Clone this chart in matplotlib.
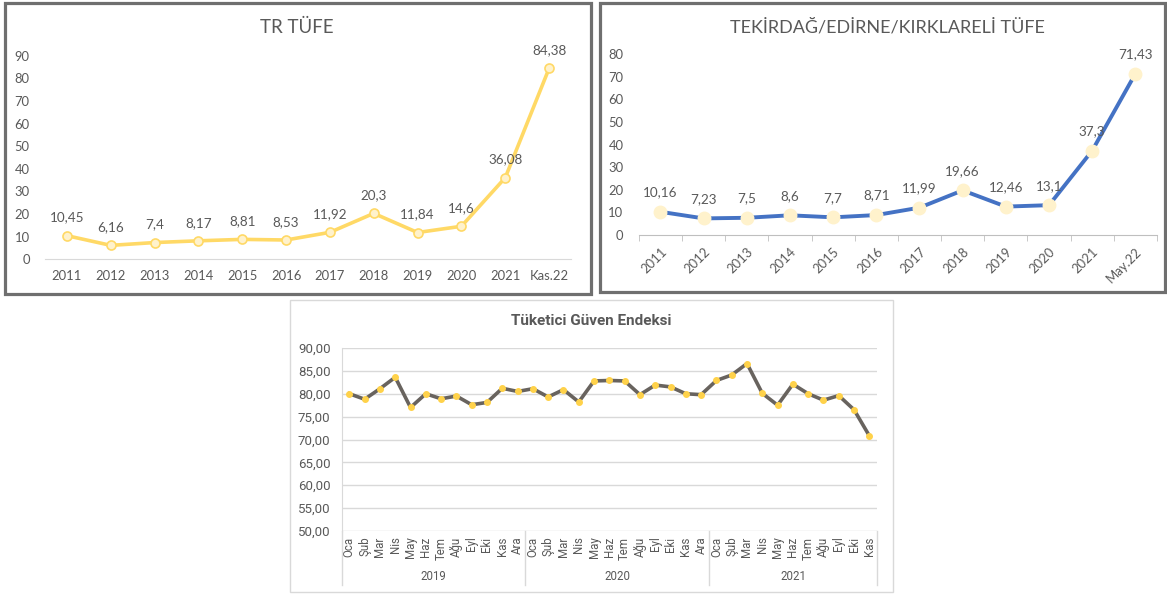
import matplotlib
matplotlib.use("Agg")
import matplotlib.pyplot as plt
from matplotlib.patches import Rectangle
import matplotlib.transforms as mtrans

W, H = 1167, 594

# ---------------- data ----------------
years = ["2011", "2012", "2013", "2014", "2015", "2016", "2017", "2018", "2019", "2020", "2021"]
tr_labels = years + ["Kas.22"]
tr_values = [10.45, 6.16, 7.4, 8.17, 8.81, 8.53, 11.92, 20.3, 11.84, 14.6, 36.08, 84.38]

tek_labels = years + ["May.22"]
tek_values = [10.16, 7.23, 7.5, 8.6, 7.7, 8.71, 11.99, 19.66, 12.46, 13.1, 37.3, 71.43]

months = ["Oca", "Şub", "Mar", "Nis", "May", "Haz", "Tem", "Ağu", "Eyl", "Eki", "Kas", "Ara"]
conf_years = ["2019", "2020", "2021"]
conf_months = months + months + months[:11]
conf_values = [80.0, 78.8, 81.1, 83.6, 77.0, 80.0, 78.9, 79.5, 77.6, 78.1, 81.2, 80.5,
               81.1, 79.3, 80.9, 78.2, 82.8, 82.9, 82.8, 79.8, 81.9, 81.5, 80.0, 79.8,
               82.9, 84.1, 86.6, 80.1, 77.5, 82.1, 80.0, 78.6, 79.6, 76.5, 70.8]

FONT = ["Lato", "DejaVu Sans"]
FONT2 = ["Roboto", "DejaVu Sans"]
GRAY = "#595959"


def box(x0, y0, x1, y1):
    return [x0 / W, 1 - y1 / H, (x1 - x0) / W, (y1 - y0) / H]


def fmt(v):
    return str(v).replace(".", ",")


fig = plt.figure(figsize=(W / 100, H / 100), dpi=100)
fig.patch.set_facecolor("white")

# panel frames
for (x0, y0, x1, y1), ec, lw in [((5, 3, 591, 294), "#6F6F6F", 2.3),
                                  ((600, 3, 1165, 292), "#6F6F6F", 2.3),
                                  ((290, 300, 893, 592), "#D9D9D9", 1.0)]:
    fig.patches.append(Rectangle((x0 / W, 1 - y1 / H), (x1 - x0) / W, (y1 - y0) / H,
                                 transform=fig.transFigure, fill=False, edgecolor=ec,
                                 linewidth=lw, zorder=0))

# ---------------- TR TÜFE ----------------
ax1 = fig.add_axes(box(45, 55.7, 571, 259.3))
x = list(range(len(tr_values)))
ax1.plot(x, tr_values, color="#FFD966", lw=2.6, marker="o", markersize=6.5,
         markerfacecolor="#FFF2CC", markeredgecolor="#FFD966", markeredgewidth=1.2, zorder=3)
for xi, v in zip(x, tr_values):
    ax1.annotate(fmt(v), (xi, v), xytext=(0, 13), textcoords="offset points",
                 ha="center", va="center", fontsize=9.7, color=GRAY, family=FONT)
ax1.set_xlim(-0.5, len(x) - 0.5)
ax1.set_ylim(0, 90)
ax1.set_yticks(range(0, 91, 10))
ax1.set_xticks(x)
ax1.set_xticklabels(tr_labels)
for s in ["top", "right", "left"]:
    ax1.spines[s].set_visible(False)
ax1.spines["bottom"].set_color("#D9D9D9")
ax1.tick_params(axis="both", length=0, labelsize=9.4, labelcolor=GRAY)
ax1.tick_params(axis="x", pad=8)
ax1.tick_params(axis="y", pad=11)
for lab in ax1.get_xticklabels() + ax1.get_yticklabels():
    lab.set_family(FONT)
fig.text(297 / W, 1 - 27 / H, "TR TÜFE", ha="center", va="center", fontsize=13.5,
         color=GRAY, family=FONT)

# ---------------- TEKİRDAĞ ----------------
ax2 = fig.add_axes(box(638.8, 54.3, 1157, 234.7))
x2 = list(range(len(tek_values)))
ax2.plot(x2, tek_values, color="#4472C4", lw=2.8, zorder=2)
ax2.plot(x2, tek_values, ls="none", marker="o", markersize=9,
         markerfacecolor="#FFF2CC", markeredgecolor="#FFF2CC", zorder=3)
for xi, v in zip(x2, tek_values):
    ax2.annotate(fmt(v), (xi, v), xytext=(0, 14), textcoords="offset points",
                 ha="center", va="center", fontsize=9.7, color=GRAY, family=FONT)
ax2.set_xlim(-0.5, len(x2) - 0.5)
ax2.set_ylim(0, 80)
ax2.set_yticks(range(0, 81, 10))
ax2.set_xticks(x2)
ax2.set_xticklabels(tek_labels, rotation=45, ha="right", va="top", rotation_mode="anchor")
ax2.set_xticks([k - 0.5 for k in range(len(x2) + 1)], minor=True)
for s in ["top", "right", "left"]:
    ax2.spines[s].set_visible(False)
ax2.spines["bottom"].set_color("#BFBFBF")
ax2.tick_params(axis="both", which="major", length=0, labelsize=9.4, labelcolor=GRAY)
ax2.tick_params(axis="x", which="minor", length=4, color="#BFBFBF")
ax2.tick_params(axis="x", which="major", pad=8)
ax2.tick_params(axis="y", pad=11)
for lab in ax2.get_xticklabels() + ax2.get_yticklabels():
    lab.set_family(FONT)
fig.text(887 / W, 1 - 27 / H, "TEKİRDAĞ/EDİRNE/KIRKLARELİ TÜFE", ha="center", va="center",
         fontsize=13, color=GRAY, family=FONT)

# ---------------- Tüketici Güven Endeksi ----------------
ax3 = fig.add_axes(box(341.7, 348, 877, 531))
x3 = list(range(len(conf_values)))
ax3.plot(x3, conf_values, color="#68635E", lw=2.6, zorder=2)
ax3.plot(x3, conf_values, ls="none", marker="o", markersize=4,
         markerfacecolor="#FFD24A", markeredgecolor="#FFD24A", zorder=3)
ax3.set_xlim(-0.5, len(x3) - 0.5)
ax3.set_ylim(50, 90)
yt = list(range(50, 91, 5))
ax3.set_yticks(yt)
ax3.set_yticklabels([f"{v:.2f}".replace(".", ",") for v in yt])
ax3.yaxis.grid(True, color="#D9D9D9", lw=1)
ax3.set_axisbelow(True)
ax3.set_xticks(x3)
ax3.set_xticklabels(conf_months, rotation=90)
for s in ["top", "right", "bottom"]:
    ax3.spines[s].set_visible(False)
ax3.spines["left"].set_color("#D9D9D9")
ax3.tick_params(axis="both", length=0, labelcolor=GRAY)
ax3.tick_params(axis="y", labelsize=9.5, pad=8)
ax3.tick_params(axis="x", labelsize=8.3, pad=4)
for lab in ax3.get_xticklabels() + ax3.get_yticklabels():
    lab.set_family(FONT2)
trans = mtrans.blended_transform_factory(ax3.transData, ax3.transAxes)
axh = 531 - 348
y_bot = -(585 - 531) / axh
for b in [-0.5, 11.5, 23.5, len(x3) - 0.5]:
    ax3.plot([b, b], [0, y_bot], transform=trans, color="#D9D9D9", lw=1, clip_on=False)
groups = [(0, 11), (12, 23), (24, len(x3) - 1)]
for yr, (a, b) in zip(conf_years, groups):
    ax3.text((a + b) / 2, -(577 - 531) / axh, yr, transform=trans, ha="center", va="center",
             fontsize=8.3, color=GRAY, family=FONT2)
fig.text(591 / W, 1 - 321 / H, "Tüketici Güven Endeksi", ha="center", va="center",
         fontsize=11, fontweight="bold", color=GRAY, family=FONT2)

fig.savefig("out.png", dpi=100, facecolor="white")
